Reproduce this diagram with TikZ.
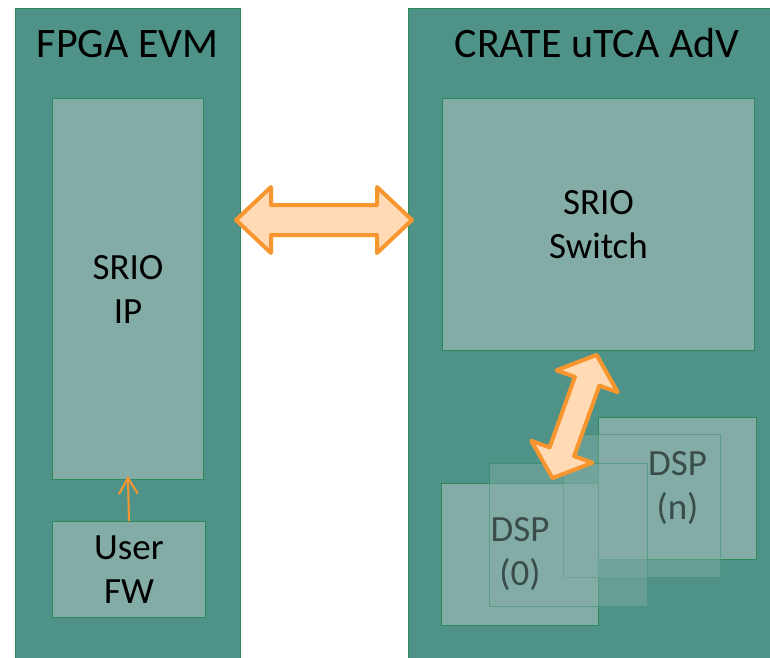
\documentclass[tikz,border=0pt]{standalone}
\usepackage{fontspec}
\setmainfont{Carlito}
\usetikzlibrary{calc,arrows.meta}

\definecolor{panelteal}{HTML}{4F9388}
\definecolor{boxfill}{HTML}{82ACA5}
\definecolor{edgegreen}{HTML}{2E8A5C}
\definecolor{arroworange}{HTML}{F7962F}
\definecolor{arrowfill}{HTML}{FFDAB4}

% Block double arrow between two tip points:
% #1, #2 tips, #3 head length, #4 head half width, #5 shaft half width
\newcommand\fatarrow[5]{%
  \draw[fatarrowstyle]
    (#1) -- ($(#1)!#3!(#2)!#4!90:(#2)$) -- ($(#1)!#3!(#2)!#5!90:(#2)$)
    -- ($(#2)!#3!(#1)!#5!-90:(#1)$) -- ($(#2)!#3!(#1)!#4!-90:(#1)$)
    -- (#2) -- ($(#2)!#3!(#1)!#4!90:(#1)$) -- ($(#2)!#3!(#1)!#5!90:(#1)$)
    -- ($(#1)!#3!(#2)!#5!-90:(#2)$) -- ($(#1)!#3!(#2)!#4!-90:(#2)$) -- cycle;}

\tikzset{
  panel/.style={draw=edgegreen, line width=1pt, fill=panelteal, anchor=north west, inner sep=0pt},
  title/.style={font=\fontsize{42}{50}\selectfont, text=black, inner sep=0pt},
  block/.style={draw=edgegreen, line width=1pt, fill=boxfill, anchor=north west, inner sep=0pt,
    align=center, font=\fontsize{37}{44}\selectfont, text=black},
  ghost/.style={draw=edgegreen, draw opacity=0.45, line width=1pt, fill=boxfill, fill opacity=0.45,
    anchor=north west, inner sep=0pt},
  fatarrowstyle/.style={draw=arroworange, fill=arrowfill, line width=4pt, line join=round},
  fwarrow/.style={draw=arroworange, line width=2pt,
    -{Straight Barb[length=16pt, width=19pt]}, shorten >=-4pt}
}

\begin{document}
\begin{tikzpicture}[x=1pt, y=-1pt]
  \useasboundingbox (0,0) rectangle (770,657);
  \clip (0,0) rectangle (770,657);
  \fill[white] (0,0) rectangle (770,657);

  % the two boards
  \node[panel, minimum width=225pt, minimum height=670pt] (fpga) at (15,8) {};
  \node[panel, minimum width=380pt, minimum height=670pt] (crate) at (408,8) {};
  \node[title, anchor=base] (fpgatitle) at (127.5,57) {FPGA EVM};
  \node[title, anchor=base] (cratetitle) at (597,57) {CRATE uTCA AdV};

  % FPGA side
  \node[block, minimum width=151pt, minimum height=381pt] (srioip) at (52,98) {SRIO\\IP};
  \node[block, minimum width=153pt, minimum height=96pt] (userfw) at (52,521) {User\\FW};
  \draw[fwarrow] (userfw.north) -- (srioip.south);

  % crate side
  \node[block, minimum width=312pt, minimum height=252pt] (switch) at (442,98) {SRIO\\Switch};
  \node[block, minimum width=158pt, minimum height=142pt] (dspn) at (598,417) {DSP\\(n)};
  \node[block, minimum width=157pt, minimum height=142pt] (dsp0) at (441,483) {DSP\\(0)};
  \node[ghost, minimum width=157pt, minimum height=143pt] (dspb) at (563,434) {};
  \node[ghost, minimum width=158pt, minimum height=143pt] (dspa) at (489,463) {};

  % SRIO links
  \coordinate (linkl) at (236,220);
  \coordinate (linkr) at (412,220);
  \fatarrow{linkl}{linkr}{35pt}{33pt}{15pt}
  \coordinate (linkt) at (596.6,354.9);
  \coordinate (linkb) at (552.4,478.1);
  \fatarrow{linkb}{linkt}{28pt}{32.5pt}{13pt}
\end{tikzpicture}
\end{document}
